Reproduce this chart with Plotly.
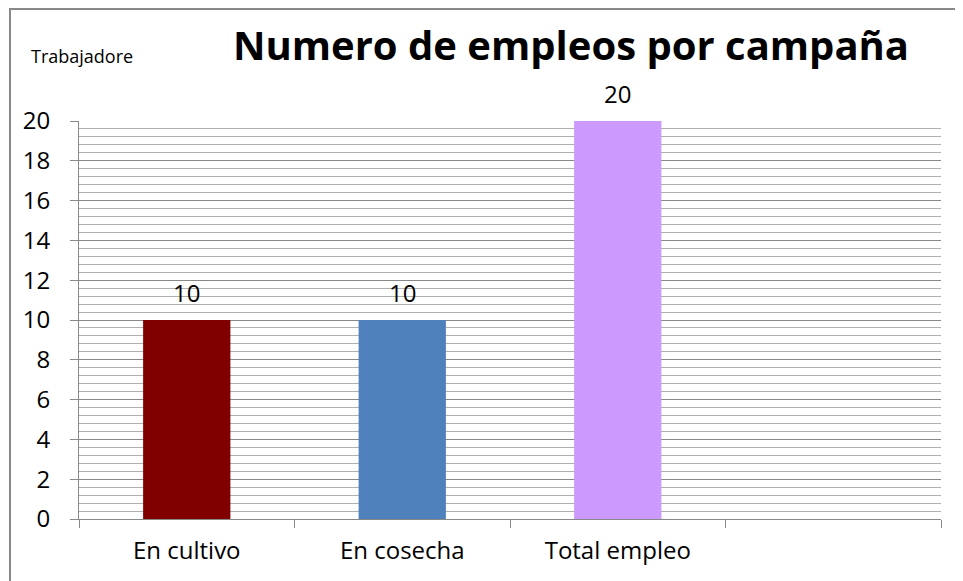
import plotly.graph_objects as go

categories = ["En cultivo", "En cosecha", "Total empleo", " "]
values = [10, 10, 20, None]
colors = ["#800000", "#4F81BD", "#CC99FF", "#FFFFFF"]
labels = ["10", "10", "20", ""]
y_ticks = [0, 2, 4, 6, 8, 10, 12, 14, 16, 18, 20]

FONT = "Open Sans"
W, H = 955, 573
L, R, T, B = 71, 22, 113, 62
PW, PH = W - L - R, H - T - B

fig = go.Figure()
fig.add_trace(go.Bar(
    x=categories, y=values,
    marker=dict(color=colors, line=dict(width=0)),
    width=0.405,
    showlegend=False,
    hoverinfo="x+y",
))

annotations = []
for c, v, t in zip(categories, values, labels):
    if v is None:
        continue
    annotations.append(dict(x=c, y=v, xref="x", yref="y", text=t, showarrow=False,
                            yanchor="middle", yshift=28,
                            font=dict(size=24, family=FONT, color="#000000")))

annotations.append(dict(text="Trabajadore", xref="paper", yref="paper",
                        x=-50 / PW, y=1 + 65 / PH, xanchor="left", yanchor="middle",
                        showarrow=False, font=dict(size=18, family=FONT, color="#000000")))

fig.update_layout(
    width=W, height=H,
    margin=dict(l=L, r=R, t=T, b=B),
    paper_bgcolor="white", plot_bgcolor="white",
    font=dict(family=FONT, color="#000000"),
    title=dict(text="<b>Numero de empleos por campaña</b>", xref="container", yref="container",
               x=563 / W, xanchor="center", y=1 - 38 / H, yanchor="middle",
               font=dict(size=40, family=FONT, color="#000000")),
    xaxis=dict(
        type="category", range=[-0.5, 3.5], tickson="boundaries",
        ticks="outside", ticklen=8, tickcolor="#888888", tickwidth=1,
        showline=True, linecolor="#888888", linewidth=1,
        showgrid=False, tickfont=dict(size=24, family=FONT, color="#000000"),
        ticklabelstandoff=10, fixedrange=True,
    ),
    yaxis=dict(
        range=[0, 20], tickvals=y_ticks,
        ticks="outside", ticklen=8, tickcolor="#888888", tickwidth=1,
        showline=True, linecolor="#888888", linewidth=1,
        showgrid=True, gridcolor="#888888", gridwidth=1,
        minor=dict(dtick=0.4, showgrid=True, gridcolor="#B0B0B0", gridwidth=1, ticks=""),
        tickfont=dict(size=24, family=FONT, color="#000000"), zeroline=False,
        ticklabelstandoff=15, fixedrange=True,
    ),
    annotations=annotations,
    shapes=[dict(type="rect", xref="paper", yref="paper",
                 x0=-69 / PW, x1=1 + 60 / PW, y0=-100 / PH, y1=1 + 112 / PH,
                 line=dict(color="#888888", width=2), fillcolor="rgba(0,0,0,0)", layer="below")],
)

fig.write_html("out.html")
